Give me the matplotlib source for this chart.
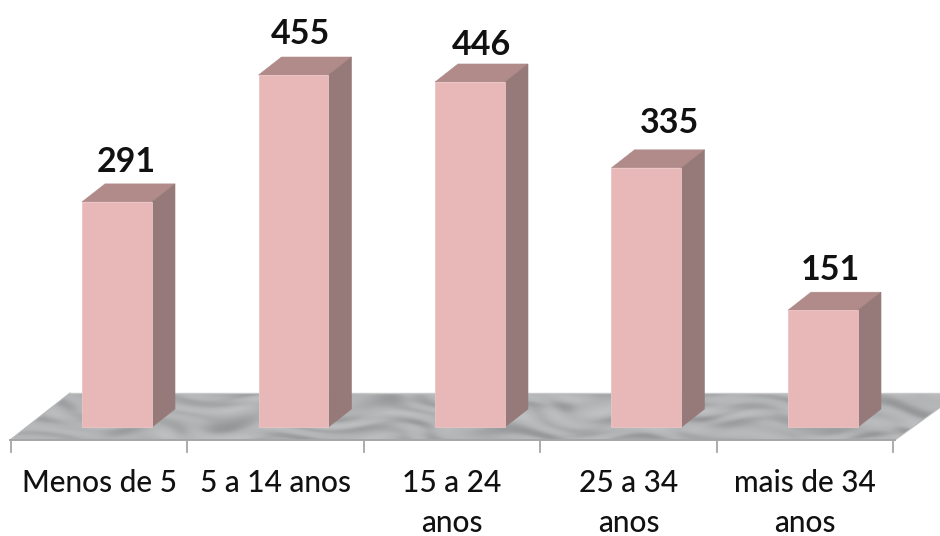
import numpy as np
import matplotlib
matplotlib.use("Agg")
import matplotlib.pyplot as plt
from matplotlib.patches import Polygon

categories = ["Menos de 5", "5 a 14 anos", "15 a 24\nanos", "25 a 34\nanos", "mais de 34\nanos"]
values = [291, 455, 446, 335, 151]
label_shift_px = [9, 7, 11, 23, 7]
label_rise_px = [40, 41, 37, 45, 40]

W, H = 940, 536
SLOT_PX = 176.5
UNIT_PX = 0.7736
ORIGIN_X = 117.0
ORIGIN_Y = 427.0
BAR_W = 70 / SLOT_PX
DEPTH_X = 23 / SLOT_PX
DEPTH_Y = 18 / UNIT_PX
AXIS_SHIFT = 18 / SLOT_PX

FRONT = "#E8B7B7"
TOP = "#B08B8A"
SIDE = "#967979"
FONT = "Lato"

fig = plt.figure(figsize=(W / 100, H / 100), dpi=100)
ax = fig.add_axes([0, 0, 1, 1])


def set_frame():
    ax.set_xlim(-ORIGIN_X / SLOT_PX, (W - ORIGIN_X) / SLOT_PX)
    ax.set_ylim((ORIGIN_Y - H) / UNIT_PX, ORIGIN_Y / UNIT_PX)


set_frame()
ax.axis("off")


def px(x, y):
    """Convert an offset in pixels from the chart origin to axis units."""
    return (x - ORIGIN_X) / SLOT_PX, (ORIGIN_Y - y) / UNIT_PX


# marble floor: a smooth procedural texture clipped to the floor shape
floor_pts = [px(10, 440), px(70, 393), px(960, 393), px(895, 440)]
yy, xx = np.mgrid[0:60, 0:960]
wx = xx + 14 * np.sin(yy / 6.1 + xx / 37) + 9 * np.sin(xx / 23.7 + 1.3)
wy = yy + 5 * np.sin(xx / 19.3) + 3 * np.sin(xx / 47.1 + yy / 8.3)
veins = (np.sin(wx / 31 + wy / 3.7) + np.sin(wx / 13.3 - wy / 2.9 + 0.7)
         + 0.7 * np.sin(wx / 71 + 2.1 * np.sin(wy / 4.3)))
shade = 0.70 - 0.04 * np.clip(-veins, 0, None) + 0.02 * np.clip(veins, 0, None)
rgb = np.dstack([shade - 0.005, shade, shade + 0.008])
x0, y0 = px(0, 385)
x1, y1 = px(960, 445)
tex = ax.imshow(np.clip(rgb, 0, 1), extent=(x0, x1, y1, y0),
                aspect="auto", interpolation="bilinear", zorder=1)
floor = Polygon(floor_pts, closed=True, facecolor="none", edgecolor="none",
                transform=ax.transData)
ax.add_patch(floor)
tex.set_clip_path(floor)
set_frame()

# floor outline and category ticks
ax.plot(*zip(floor_pts[1], floor_pts[2]), color="#C8C8C8", lw=1.0, zorder=2)
ax.plot(*zip(floor_pts[0], floor_pts[1]), color="#B8B8B8", lw=0.8, zorder=2)
ax.plot(*zip(floor_pts[2], floor_pts[3]), color="#B8B8B8", lw=0.8, zorder=2)
ax.plot(*zip(floor_pts[0], floor_pts[3]), color="#A6A6A6", lw=1.4, zorder=2)
tick_y0 = px(0, 440)[1]
tick_y1 = px(0, 452)[1]
for i in range(len(categories) + 1):
    tx = i - 0.5 - AXIS_SHIFT
    ax.plot([tx, tx], [tick_y0, tick_y1], color="#A6A6A6", lw=1.3, zorder=2)

# extruded bars
for i, v in enumerate(values):
    l, r = i - BAR_W / 2, i + BAR_W / 2
    ax.add_patch(Polygon([(l, 0), (r, 0), (r, v), (l, v)], facecolor=FRONT,
                         edgecolor="#EBC4C4", lw=0.6, zorder=4))
    ax.add_patch(Polygon([(l, v), (r, v), (r + DEPTH_X, v + DEPTH_Y), (l + DEPTH_X, v + DEPTH_Y)],
                         facecolor=TOP, edgecolor=TOP, lw=0.4, zorder=3))
    ax.add_patch(Polygon([(r, 0), (r + DEPTH_X, DEPTH_Y), (r + DEPTH_X, v + DEPTH_Y), (r, v)],
                         facecolor=SIDE, edgecolor=SIDE, lw=0.4, zorder=3))
    ax.text(i + label_shift_px[i] / SLOT_PX, v + label_rise_px[i] / UNIT_PX, str(v),
            ha="center", va="center", fontsize=24.5, fontweight="bold",
            family=FONT, color="#111111", zorder=5)

# category labels, one or two lines
for i, name in enumerate(categories):
    ax.text(i - AXIS_SHIFT, px(0, 469)[1], name, ha="center", va="top",
            fontsize=21.5, fontweight="medium", family=FONT, color="#111111",
            linespacing=1.5, zorder=5)

fig.savefig("out.png", dpi=100, facecolor="white")
